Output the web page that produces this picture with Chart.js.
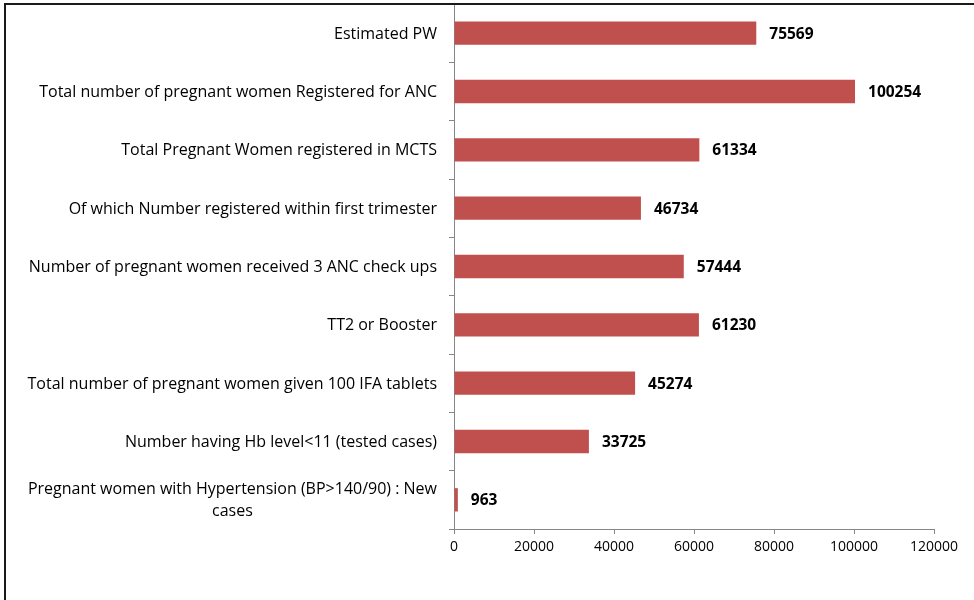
<!DOCTYPE html>
<html>
<head>
<meta charset="utf-8">
<script src="https://cdn.jsdelivr.net/npm/chart.js@4/dist/chart.umd.min.js"></script>
<style>
  html, body { margin: 0; padding: 0; background: #fff; overflow: hidden; }
  #wrap { position: relative; width: 974px; height: 600px; }
  #frame {
    position: absolute; left: 4px; top: 3px; width: 1200px; height: 1200px;
    border: 2px solid #1a1a1a; pointer-events: none;
  }
</style>
</head>
<body>
<div id="wrap">
  <canvas id="c" width="974" height="600"></canvas>
  <div id="frame"></div>
</div>
<script>
// chart data
const categories = [
  ["Estimated PW"],
  ["Total number of pregnant women Registered for ANC"],
  ["Total Pregnant Women registered in MCTS"],
  ["Of which Number registered within first trimester"],
  ["Number of pregnant women received 3 ANC check ups"],
  ["TT2 or Booster"],
  ["Total number of pregnant women given 100 IFA tablets"],
  ["Number having Hb level<11 (tested cases)"],
  ["Pregnant women with Hypertension (BP>140/90) : New", "cases"]
];
const values = [75569, 100254, 61334, 46734, 57444, 61230, 45274, 33725, 963];
const xTicks = [0, 20000, 40000, 60000, 80000, 100000, 120000];

const FONT = "'Open Sans', sans-serif";
const AXIS_GREY = "#868686";

// draws the category names (right aligned block, lines centred inside it)
const catLabels = {
  id: "catLabels",
  afterDraw(chart) {
    const ctx = chart.ctx;
    const y = chart.scales.y;
    const right = 437;
    const lh = 22;
    ctx.save();
    ctx.font = "16px " + FONT;
    ctx.fillStyle = "#000";
    ctx.textBaseline = "middle";
    categories.forEach((lines, i) => {
      const cy = y.getPixelForValue(i) + 1;
      const w = Math.max(...lines.map(l => ctx.measureText(l).width));
      const top = cy - (lines.length - 1) * lh / 2;
      if (lines.length === 1) {
        ctx.textAlign = "right";
        ctx.fillText(lines[0], right, cy);
      } else {
        ctx.textAlign = "center";
        lines.forEach((l, k) => ctx.fillText(l, right - w / 2, top + k * lh));
      }
    });
    ctx.restore();
  }
};

// bold value next to the end of each bar
const valueLabels = {
  id: "valueLabels",
  afterDatasetsDraw(chart) {
    const ctx = chart.ctx;
    const meta = chart.getDatasetMeta(0);
    ctx.save();
    ctx.font = "bold 15.5px " + FONT;
    ctx.fillStyle = "#000";
    ctx.textAlign = "left";
    ctx.textBaseline = "middle";
    meta.data.forEach((bar, i) => {
      ctx.fillText(String(values[i]), bar.x + 13, bar.y + 1);
    });
    ctx.restore();
  }
};

new Chart(document.getElementById("c"), {
  type: "bar",
  data: {
    labels: categories.map(c => c.join(" ")),
    datasets: [{
      data: values,
      backgroundColor: "#C0504D",
      borderWidth: 0,
      barPercentage: 0.4,
      categoryPercentage: 1
    }]
  },
  options: {
    indexAxis: "y",
    responsive: false,
    animation: false,
    layout: { padding: { top: 4, right: 40, left: 0, bottom: 0 } },
    plugins: {
      legend: { display: false },
      tooltip: { enabled: false }
    },
    scales: {
      x: {
        min: 0,
        max: 120000,
        afterBuildTicks(scale) {
          scale.ticks = xTicks.map(v => ({ value: v }));
        },
        afterFit(scale) { scale.height = 71; },
        grid: {
          drawOnChartArea: false,
          drawTicks: true,
          tickLength: 5,
          color: AXIS_GREY
        },
        border: { display: true, color: AXIS_GREY, width: 1 },
        ticks: {
          color: "#000",
          padding: 5,
          maxRotation: 0,
          font: { family: FONT, size: 14 },
          callback: v => String(v)
        }
      },
      y: {
        afterFit(scale) { scale.width = 454; },
        grid: {
          offset: true,
          drawOnChartArea: false,
          drawTicks: true,
          tickLength: 5,
          color: AXIS_GREY
        },
        border: { display: true, color: AXIS_GREY, width: 1 },
        ticks: { display: false }
      }
    }
  },
  plugins: [catLabels, valueLabels]
});
</script>
</body>
</html>
